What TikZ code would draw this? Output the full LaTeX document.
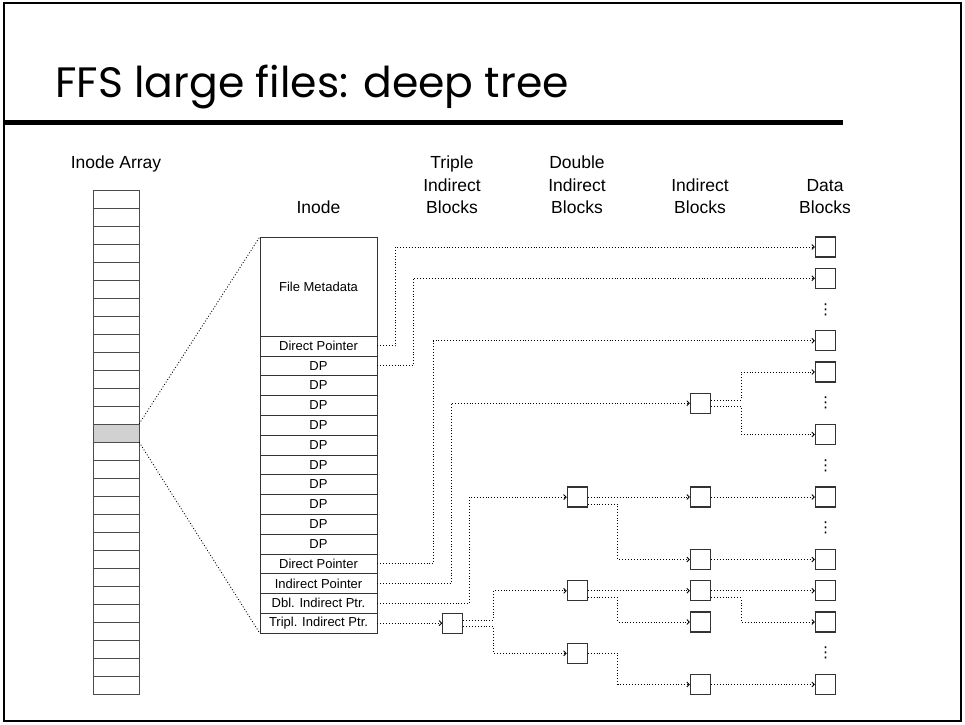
\documentclass[tikz,border=0pt]{standalone}
\usepackage{fontspec}
\setmainfont{Liberation Sans}
\newfontfamily\titelfont{Poppins}
\newfontfamily\symbfont{DejaVu Sans}
\usetikzlibrary{arrows.meta}

\tikzset{
  zelle/.style={rectangle, draw=black!70, fill=white, minimum width=46pt, minimum height=18pt, inner sep=0pt},
  feld/.style={rectangle, draw=black!80, minimum width=117pt, minimum height=19.8pt, inner sep=0pt, font=\fontsize{13}{14}\selectfont},
  blk/.style={rectangle, draw=black!80, line width=1.1pt, minimum size=20pt, inner sep=0pt},
  kopf/.style={align=center, inner sep=0pt, anchor=south, font=\fontsize{17.5}{22.5}\selectfont},
  luecke/.style={inner sep=0pt, font=\symbfont\fontsize{15}{15}\selectfont},
  zeiger/.style={->, dotted, line width=0.9pt, >={Straight Barb[length=2.5pt,width=5pt]}},
}

\begin{document}
\begin{tikzpicture}[x=1pt, y=-1pt]
  \useasboundingbox (0,0) rectangle (965,724);

  % Rahmen und Titel
  \draw[line width=2.5pt] (4,3) rectangle (961,721);
  \draw[line width=5pt] (3,122) -- (843,122);
  \node[anchor=base west, inner sep=0pt, font=\titelfont\fontsize{42.5}{50}\selectfont] (titel) at (55,97) {FFS large files: deep tree};

  % Spaltenkoepfe
  \node[kopf, anchor=base] (arrkopf) at (116,168.5) {Inode Array};
  \node[kopf] (inokopf) at (318.5,214) {Inode};
  \node[kopf] (k3) at (452,214) {Triple\\Indirect\\Blocks};
  \node[kopf] (k2) at (577,214) {Double\\Indirect\\Blocks};
  \node[kopf] (k1) at (700,214) {Indirect\\Blocks};
  \node[kopf] (k0) at (825,214) {Data\\Blocks};

  % Inode-Array
  \foreach \i in {0,...,27}
    \node[zelle] (a\i) at (116, 199 + 18*\i) {};
  \node[zelle, fill=black!18] (sel) at (a13) {};

  % Inode
  \node[feld, minimum height=99pt] (meta) at (318.5,286.5) {File Metadata};
  \node[feld] (r5) at (318.5,345.9) {Direct Pointer};
  \foreach \i in {6,...,15}
    \node[feld] (r\i) at (318.5, 246.9 + 19.8*\i) {DP};
  \node[feld] (r16) at (318.5,563.7) {Direct Pointer};
  \node[feld] (r17) at (318.5,583.5) {Indirect Pointer};
  \node[feld] (r18) at (318.5,603.3) {Dbl. Indirect Ptr.};
  \node[feld] (r19) at (318.5,623.1) {Tripl. Indirect Ptr.};

  % Array -> Inode
  \draw[dotted, line width=0.9pt] (sel.north east) -- (meta.north west);
  \draw[dotted, line width=0.9pt] (sel.south east) -- (r19.south west);

  % Bloecke
  \foreach \k in {0,1,3,4,6,8,10,11,12,14}
    \node[blk] (d\k) at (825.5, 247 + 31.25*\k) {};
  \foreach \k in {2,5,7,9,13}
    \node[luecke] (p\k) at (825.5, 247 + 31.25*\k) {⋮};
  \foreach \k in {5,8,10,11,12,14}
    \node[blk] (i\k) at (700.5, 247 + 31.25*\k) {};
  \foreach \k in {8,11,13}
    \node[blk] (b\k) at (577.3, 247 + 31.25*\k) {};
  \node[blk] (t12) at (452.7,623.1) {};

  % Zeiger aus dem Inode
  \draw[zeiger] (r5.east) -- ++(18,0) |- (d0.west);
  \draw[zeiger] (r6.east) -- ++(36,0) |- (d1.west);
  \draw[zeiger] (r16.east) -- ++(56,0) |- (d3.west);
  \draw[zeiger] (r17.east) -- ++(74,0) |- (i5.west);
  \draw[zeiger] (r18.east) -- ++(92,0) |- (b8.west);
  \draw[zeiger] (r19.east) -- (t12.west);

  % dreifach indirekt
  \draw[zeiger] ([yshift=3pt]t12.east) -- ++(30,0) |- (b11.west);
  \draw[zeiger] ([yshift=-3pt]t12.east) -- ++(30,0) |- (b13.west);

  % zweifach indirekt
  \draw[zeiger] (b8) -- (i8);
  \draw[zeiger] ([yshift=-7pt]b8.east) -- ++(30,0) |- (i10.west);
  \draw[zeiger] (b11) -- (i11);
  \draw[zeiger] ([yshift=-7pt]b11.east) -- ++(30,0) |- (i12.west);
  \draw[zeiger] (b13.east) -- ++(30,0) |- (i14.west);

  % einfach indirekt
  \draw[zeiger] ([yshift=3pt]i5.east) -- ++(30,0) |- (d4.west);
  \draw[zeiger] ([yshift=-3pt]i5.east) -- ++(30,0) |- (d6.west);
  \draw[zeiger] (i8) -- (d8);
  \draw[zeiger] (i10) -- (d10);
  \draw[zeiger] (i11) -- (d11);
  \draw[zeiger] ([yshift=-7pt]i11.east) -- ++(30,0) |- (d12.west);
  \draw[zeiger] (i14) -- (d14);

\end{tikzpicture}
\end{document}
